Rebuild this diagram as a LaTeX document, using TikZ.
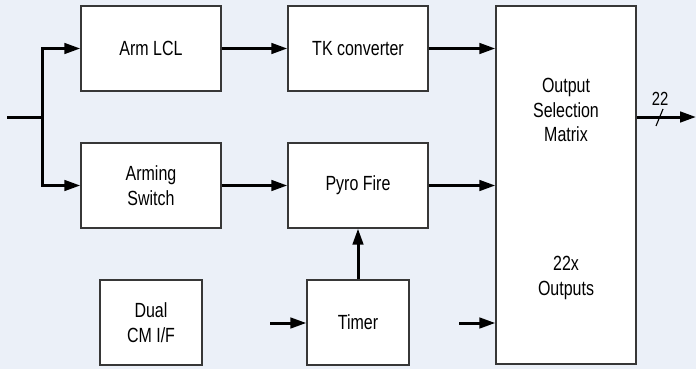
\documentclass[tikz,border=0pt]{standalone}
\usepackage{fontspec}
\setmainfont[FakeStretch=0.78]{Liberation Sans}
\usetikzlibrary{arrows.meta}
\definecolor{bgc}{RGB}{235,240,248}
\definecolor{boxline}{RGB}{55,55,55}
\begin{document}
\begin{tikzpicture}[x=1pt,y=-1pt,
  blk/.style={draw=boxline,line width=1.3pt,fill=white,inner sep=0pt,align=center,
    font=\fontsize{20.5}{24.5}\selectfont},
  conn/.style={line width=3pt,-{Triangle[length=16pt,width=10.5pt]}},
  wire/.style={line width=3pt}]
\fill[bgc] (0,0) rectangle (696,369);
\useasboundingbox (0,0) rectangle (696,369);
% boxes
\node[blk,minimum width=140pt,minimum height=85pt] (arm) at (151,48.5) {Arm LCL};
\node[blk,minimum width=140pt,minimum height=85pt] (sw) at (151,185.5) {Arming\\Switch};
\node[blk,minimum width=140pt,minimum height=85pt] (tk) at (358,48.5) {TK converter};
\node[blk,minimum width=140pt,minimum height=85pt] (pyro) at (358,185.5) {Pyro Fire};
\node[blk,minimum width=102pt,minimum height=85pt] (cm) at (151,322.5) {Dual\\CM I/F};
\node[blk,minimum width=102pt,minimum height=85pt] (timer) at (358,322.5) {Timer};
\node[blk,minimum width=140pt,minimum height=358pt] (out) at (566,185) {};
\node[font=\fontsize{20.5}{24.5}\selectfont,align=center] (osm) at (566,110) {Output\\Selection\\Matrix};
\node[font=\fontsize{20.5}{24.5}\selectfont,align=center] (oo) at (566,278) {22x\\Outputs};
% input fan
\coordinate (in) at (7,117);
\coordinate (j) at (42,117);
\draw[wire] (in) -- (j);
\draw[conn] (j) |- (arm.west);
\draw[conn] (j) |- (sw.west);
\draw[conn] (arm) -- (tk);
\draw[conn] (sw) -- (pyro);
\draw[conn] (tk.east) -- (tk.east -| out.west);
\draw[conn] (pyro.east) -- (pyro.east -| out.west);
\draw[conn] (timer.north) -- (pyro.south);
\coordinate (tin) at (270,323);
\draw[conn] (tin) -- (tin -| timer.west);
\coordinate (oin) at (459,323);
\draw[conn] (oin) -- (oin -| out.west);
\coordinate (oend) at (696,117);
\draw[conn] (out.east |- oend) -- (oend);
\coordinate (s1) at (656,126);
\coordinate (s2) at (663,109);
\draw[line width=1.1pt] (s1) -- (s2);
\node[font=\fontsize{19}{22}\selectfont] (lbl) at (660,99) {22};
\end{tikzpicture}
\end{document}
